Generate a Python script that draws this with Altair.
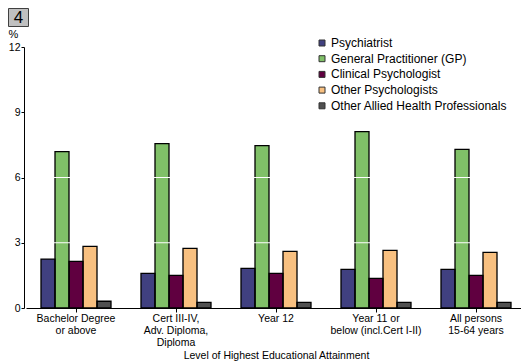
import altair as alt
import pandas as pd

categories = [
    "Bachelor Degree\nor above",
    "Cert III-IV,\nAdv. Diploma,\nDiploma",
    "Year 12",
    "Year 11 or\nbelow (incl.Cert I-II)",
    "All persons\n15-64 years",
]
series = [
    "Psychiatrist",
    "General Practitioner (GP)",
    "Clinical Psychologist",
    "Other Psychologists",
    "Other Allied Health Professionals",
]
psychiatrist = [2.25, 1.59, 1.82, 1.78, 1.78]
gp = [7.19, 7.56, 7.47, 8.11, 7.29]
clinical = [2.14, 1.50, 1.59, 1.36, 1.50]
other_psych = [2.83, 2.74, 2.60, 2.65, 2.56]
allied = [0.31, 0.26, 0.26, 0.26, 0.26]
colors = ["#404080", "#80C068", "#600040", "#F8C080", "#505050"]
y_ticks = [0, 3, 6, 9, 12]
grid_vals = [3, 6, 9]
panel_label = ["4"]

rows = []
for s, vals in zip(series, [psychiatrist, gp, clinical, other_psych, allied]):
    for c, v in zip(categories, vals):
        rows.append({"category": c, "series": s, "value": v})
df = pd.DataFrame(rows)
grid_df = pd.DataFrame({"value": grid_vals})
label_df = pd.DataFrame({"label": panel_label})

FONT = "Liberation Sans"

y_axis = alt.Axis(
    values=y_ticks,
    offset=2,
    grid=False,
    tickSize=3,
    labelPadding=1,
    labelFont=FONT,
    labelFontSize=10.5,
    labelColor="black",
    domainColor="black",
    tickColor="black",
    title="%",
    titleAngle=0,
    titleX=-11,
    titleY=-13,
    titleAlign="center",
    titleBaseline="middle",
    titleFont=FONT,
    titleFontSize=11,
    titleFontWeight="normal",
    titleColor="black",
)
y_scale = alt.Scale(domain=[0, 12], nice=False)
x_scale = alt.Scale(paddingInner=0.3, paddingOuter=0.15, range=[0, 500])
x_axis = alt.Axis(
    title="Level of Highest Educational Attainment",
    labelExpr="split(datum.label, '\\n')",
    labelAngle=0,
    tickSize=4,
    labelPadding=1,
    labelLineHeight=12,
    labelFont=FONT,
    labelFontSize=10.5,
    labelColor="black",
    labelBaseline="top",
    titleFont=FONT,
    titleFontSize=10.5,
    titleFontWeight="normal",
    titleColor="black",
    titleY=47,
    titleBaseline="middle",
    domainColor="black",
    tickColor="black",
)
xo = alt.XOffset("series:N", sort=series, scale=alt.Scale(paddingInner=0, paddingOuter=0))

bars = alt.Chart(df).mark_bar().encode(
    x=alt.X("category:N", sort=categories, scale=x_scale, axis=x_axis),
    xOffset=xo,
    y=alt.Y("value:Q", scale=y_scale, axis=y_axis),
    color=alt.Color(
        "series:N",
        sort=series,
        scale=alt.Scale(domain=series, range=colors),
        legend=alt.Legend(
            orient="none",
            legendX=290,
            legendY=-10,
            title=None,
            symbolType="square",
            symbolSize=36,
            symbolStrokeColor="#333333",
            symbolStrokeWidth=1,
            labelFont=FONT,
            labelFontSize=12,
            labelColor="black",
            labelLimit=400,
            rowPadding=3.7,
            padding=0,
            labelOffset=3,
        ),
    ),
)

outline = alt.Chart(df).mark_bar(filled=False, stroke="black", strokeWidth=1.3).encode(
    x=alt.X("category:N", sort=categories, scale=x_scale, axis=x_axis),
    xOffset=xo,
    y=alt.Y("value:Q", scale=y_scale, axis=y_axis),
)

grid = alt.Chart(grid_df).mark_rule(color="white", strokeWidth=1).encode(
    y=alt.Y("value:Q", scale=y_scale, axis=y_axis)
)

box = alt.Chart(label_df).mark_rect(fill="#C0C0C0", stroke="#404040", strokeWidth=1).encode(
    x=alt.value(-17.5), x2=alt.value(2.5), y=alt.value(-38.5), y2=alt.value(-20.5)
)
box_text = alt.Chart(label_df).mark_text(
    font=FONT, fontSize=17, color="black", align="center", baseline="middle"
).encode(x=alt.value(-7.5), y=alt.value(-29), text="label:N")

chart = alt.layer(bars, outline, grid, box, box_text).properties(
    width=495,
    height=261,
    autosize=alt.AutoSizeParams(type="none"),
    padding={"left": 18, "top": 39, "right": 0, "bottom": 55},
).configure_view(strokeWidth=0)

chart.save("out.html", embed_options={"renderer": "svg", "actions": False})
